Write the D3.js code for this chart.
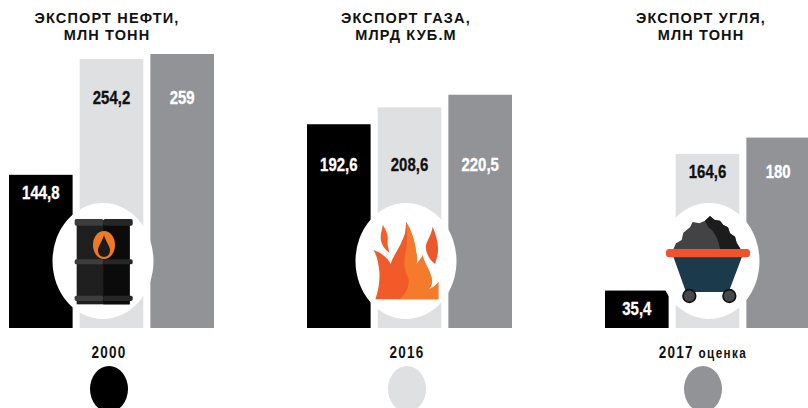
<!DOCTYPE html>
<html lang="en">
  <head>
    <meta charset="utf-8">
    <title>Экспорт</title>
    <style type="text/css">
      html, body{
        margin: 0;
        padding: 0;
        background: #fff;
        overflow: hidden;
      }
      .title{
        font-family: "Liberation Sans", sans-serif;
        font-weight: 700;
        font-size: 14.5px;
        letter-spacing: 1.15px;
        text-anchor: middle;
        fill: #111;
      }
      .value{
        font-family: "Liberation Sans", sans-serif;
        font-weight: 700;
        font-size: 17px;
        text-anchor: middle;
        stroke-width: 0.3px;
      }
      .year{
        font-family: "Liberation Sans", sans-serif;
        font-weight: 700;
        font-size: 15px;
        letter-spacing: 1.4px;
        text-anchor: middle;
        fill: #111;
      }
    </style>
    <script src="https://cdn.jsdelivr.net/npm/d3@7"></script>
  </head>
  <body>
    <svg id="chart" width="808" height="408"></svg>
    <script type="text/javascript">
      //data
      var years = ["2000", "2016", "2017 оценка"];
      var oil = [144.8, 254.2, 259];
      var gas = [192.6, 208.6, 220.5];
      var coal = [35.4, 164.6, 180];
      var titles = [
        ["ЭКСПОРТ НЕФТИ,", "МЛН ТОНН"],
        ["ЭКСПОРТ ГАЗА,", "МЛРД КУБ.М"],
        ["ЭКСПОРТ УГЛЯ,", "МЛН ТОНН"]
      ];
      var valueLabels = [
        ["144,8", "254,2", "259"],
        ["192,6", "208,6", "220,5"],
        ["35,4", "164,6", "180"]
      ];

      var colors = ["#000000", "#dfe0e2", "#929396"];
      var textColors = ["#ffffff", "#111111", "#ffffff"];

      var svg = d3.select("#chart");

      //shared value scale, all three panels use the same one
      var y = d3.scaleLinear()
        .domain([0, 259])
        .range([328, 54]);

      var color = d3.scaleOrdinal().domain(years).range(colors);
      var textColor = d3.scaleOrdinal().domain(years).range(textColors);

      //labelY holds baselines of the value labels, they don't follow the bar tops
      var panels = [
        {values: oil, x0: 9, title: 107, icon: drawBarrel, cx: 103, labelY: [199, 104, 104]},
        {values: gas, x0: 307, title: 406, icon: drawFlame, cx: 406, labelY: [171, 171, 171]},
        {values: coal, x0: 605, title: 701, icon: drawCart, cx: 709, labelY: [315, 178, 178]}
      ];

      panels.forEach(function(p, i){
        //band scale for the three bars of one panel
        var x = d3.scaleBand()
          .domain(years)
          .range([p.x0, p.x0 + 205])
          .paddingInner(0.1)
          .paddingOuter(0);

        var g = svg.append("g");

        g.selectAll("rect")
          .data(p.values)
          .enter()
          .append("rect")
          .attr("x", (d, j) => x(years[j]))
          .attr("y", d => y(d))
          .attr("width", x.bandwidth())
          .attr("height", d => y(0) - y(d))
          .attr("fill", (d, j) => color(years[j]));

        //white ellipse behind the icon
        g.append("ellipse")
          .attr("cx", p.cx)
          .attr("cy", 261)
          .attr("rx", 50.5)
          .attr("ry", 58)
          .attr("fill", "#fff");

        //icons are drawn in a 3x grid around the ellipse centre
        p.icon(g.append("g").attr("transform", `translate(${p.cx},261) scale(${1/3})`));

        //value labels, squeezed a little to get the condensed look
        g.selectAll(".value")
          .data(p.values)
          .enter()
          .append("text")
          .attr("class", "value")
          .attr("transform", (d, j) => `translate(${x(years[j]) + x.bandwidth() / 2},${p.labelY[j]}) scale(0.88,1.08)`)
          .attr("fill", (d, j) => textColor(years[j]))
          .attr("stroke", (d, j) => textColor(years[j]))
          .text((d, j) => valueLabels[i][j]);

        //panel title, two lines
        g.selectAll(".title")
          .data(titles[i])
          .enter()
          .append("text")
          .attr("class", "title")
          .attr("x", p.title)
          .attr("y", (d, j) => 23 + j * 17)
          .text(d => d);
      });

      //legend along the bottom
      var legendX = d3.scaleOrdinal().domain(years).range([109, 407, 703]);

      var legendText = svg.selectAll(".year")
        .data(years)
        .enter()
        .append("text")
        .attr("class", "year")
        .attr("transform", d => `translate(${legendX(d)},358) scale(0.9,1.08)`);

      legendText.append("tspan").text(d => d.split(" ")[0]);
      legendText.filter(d => d.includes(" "))
        .append("tspan")
        .attr("font-size", 13)
        .attr("letter-spacing", 1.6)
        .text(d => " " + d.split(" ")[1]);

      svg.selectAll(".dot")
        .data(years)
        .enter()
        .append("ellipse")
        .attr("class", "dot")
        .attr("cx", d => legendX(d))
        .attr("cy", 389)
        .attr("rx", 19)
        .attr("ry", 23)
        .attr("fill", d => color(d));

      //oil barrel icon
      function drawBarrel(g){
        g.append("rect").attr("x", -79).attr("y", -122).attr("width", 159).attr("height", 252).attr("fill", "#1f1f20");
        g.append("rect").attr("x", 1).attr("y", -122).attr("width", 79).attr("height", 252).attr("fill", "#0b0b0b");
        [[-126, 20], [-5, 15], [104, 16]].forEach(function(b){
          g.append("rect").attr("x", -85).attr("y", b[0]).attr("width", 86).attr("height", b[1]).attr("rx", 5).attr("fill", "#3d3d3e");
          g.append("rect").attr("x", 1).attr("y", b[0]).attr("width", 88).attr("height", b[1]).attr("rx", 5).attr("fill", "#262627");
        });
        g.append("ellipse").attr("cx", 3).attr("cy", -48).attr("rx", 33).attr("ry", 42).attr("fill", "#ee7a24");
        g.append("path")
          .attr("d", "M3,-78 C8,-58 21,-46 21,-32 C21,-18 12,-12 3,-12 C-6,-12 -15,-18 -15,-32 C-15,-46 -2,-58 3,-78Z")
          .attr("fill", "#1b1b1c");
      }

      //flame icon
      function drawFlame(g){
        g.attr("transform", g.attr("transform") + " translate(-198,-183)");
        g.append("path")
          .attr("d", "M106,298 C116,270 120,240 118,215 C115,185 110,165 100,150 C120,155 145,175 152,192 C160,165 185,135 195,100 C197,85 198,75 198,65 C215,90 225,125 228,155 C232,170 232,185 228,195 C235,185 245,175 248,165 C250,185 268,205 275,235 C278,252 272,262 265,268 C278,264 290,255 295,245 L295,298Z")
          .attr("fill", "#f15a29");
        g.append("path")
          .attr("d", "M198,70 C215,95 225,125 228,155 C232,170 232,185 228,195 C235,185 245,175 248,165 C250,185 268,205 275,235 C278,252 272,262 265,268 C278,264 290,255 295,245 L295,298 L178,298 C198,282 210,258 205,235 C195,212 188,195 198,150 C203,125 202,95 198,70Z")
          .attr("fill", "#f47b2b");
        g.append("path")
          .attr("d", "M148,158 C132,148 122,130 122,112 C122,98 127,88 128,75 C138,88 146,108 143,122 C141,132 146,145 148,158Z")
          .attr("fill", "#f1622b");
        g.append("path")
          .attr("d", "M285,192 C268,178 256,160 258,135 C262,120 274,105 278,80 C288,105 296,130 294,155 C292,170 288,182 285,192Z")
          .attr("fill", "#ee562b");
      }

      //coal cart icon
      function drawCart(g){
        g.attr("transform", g.attr("transform") + " translate(-207,-213)");
        g.append("path")
          .attr("d", "M100,178 L108,160 L125,150 L130,128 L150,112 L158,96 L178,100 L195,92 L210,78 L224,90 L240,92 L250,105 L264,112 L270,130 L285,140 L290,158 L302,178Z")
          .attr("fill", "#434345");
        g.append("path")
          .attr("d", "M195,92 L210,78 L224,90 L240,92 L250,105 L264,112 L270,130 L285,140 L290,158 L302,178 L240,178 C236,150 225,125 205,112Z")
          .attr("fill", "#1c1c1d");
        g.append("path")
          .attr("d", "M100,200 L306,200 L266,306 L138,306Z")
          .attr("fill", "#1b3a4b");
        g.append("rect").attr("x", 78).attr("y", 177).attr("width", 252).attr("height", 25).attr("rx", 10).attr("fill", "#f0522b");
        [148, 268].forEach(function(cx){
          g.append("circle").attr("cx", cx).attr("cy", 318).attr("r", 19).attr("fill", "#48484a").attr("stroke", "#111").attr("stroke-width", 5);
        });
      }
    </script>
  </body>
</html>
